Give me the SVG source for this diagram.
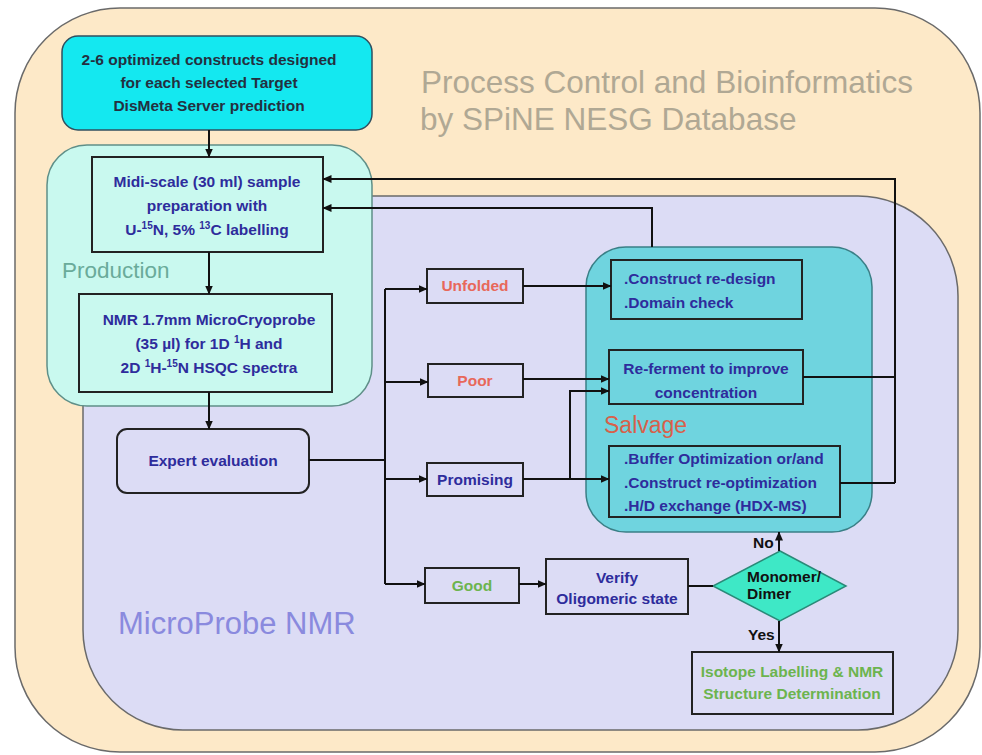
<svg xmlns="http://www.w3.org/2000/svg" width="982" height="755" viewBox="0 0 982 755">
<defs>
<marker id="ah" markerWidth="9" markerHeight="8" refX="8.5" refY="4" orient="auto" markerUnits="userSpaceOnUse">
<path d="M0,0 L9,4 L0,8 z" fill="#111"/>
</marker>
<style>
.t{font-family:"Liberation Sans",Arial,sans-serif;font-weight:bold;font-size:15.5px;fill:#2e2c9c;text-anchor:middle}
.tl{font-family:"Liberation Sans",Arial,sans-serif;font-weight:bold;font-size:15.5px;fill:#2e2c9c}
.box{fill:none;stroke:#222;stroke-width:2}
.c{fill:none;stroke:#111;stroke-width:2}
.ca{fill:none;stroke:#111;stroke-width:2;marker-end:url(#ah)}
.big{font-family:"Liberation Sans",Arial,sans-serif}
.sup{font-size:10px}
</style>
</defs>
<g id="background">
<rect x="15" y="8" width="965" height="744" rx="105" fill="#fde9c8" stroke="#6a6a6a" stroke-width="1.5"/>
<text class="big" x="421" y="93" font-size="31.5" fill="#b0a894">Process Control and Bioinformatics</text>
<text class="big" x="420" y="130" font-size="31.5" fill="#b0a894">by SPiNE NESG Database</text>
</g>
<g id="microprobe">
<rect x="83" y="196" width="875" height="534" rx="100" fill="#dcdcf5" stroke="#6a6a6a" stroke-width="1.5"/>
<text class="big" x="118" y="634" font-size="31" fill="#8a8ade">MicroProbe NMR</text>
</g>
<g id="production">
<rect x="47" y="145" width="325" height="261" rx="40" fill="#c9f9ef" stroke="#5f8f88" stroke-width="1.5"/>
<text class="big" x="62" y="278" font-size="22.5" fill="#6aab9a">Production</text>
</g>
<g id="salvage">
<rect x="586" y="247" width="286" height="285" rx="40" fill="#6fd4df" stroke="#3a7f86" stroke-width="1.5"/>
<text class="big" x="604" y="433" font-size="23" fill="#d8604a">Salvage</text>
</g>
<g id="constructs">
<rect x="62" y="36" width="310" height="94" rx="16" fill="#14e8f0" stroke="#2f4f5f" stroke-width="1.5"/>
<text class="t" x="209" y="65" style="fill:#233040">2-6 optimized constructs designed</text>
<text class="t" x="209" y="88" style="fill:#233040">for each selected Target</text>
<text class="t" x="209" y="111" style="fill:#233040">DisMeta Server prediction</text>
</g>
<g id="midiscale">
<rect class="box" x="92" y="157" width="231" height="95"/>
<text class="t" x="207" y="187">Midi-scale (30 ml) sample</text>
<text class="t" x="207" y="211">preparation with</text>
<text class="t" x="207" y="235">U-<tspan class="sup" dy="-6">15</tspan><tspan dy="6">N, 5% </tspan><tspan class="sup" dy="-6">13</tspan><tspan dy="6">C  labelling</tspan></text>
</g>
<g id="nmr">
<rect class="box" x="79" y="294" width="253" height="98"/>
<text class="t" x="209" y="325">NMR 1.7mm MicroCryoprobe</text>
<text class="t" x="209" y="349">(35 µl) for 1D <tspan class="sup" dy="-6">1</tspan><tspan dy="6">H and</tspan></text>
<text class="t" x="209" y="373">2D <tspan class="sup" dy="-6">1</tspan><tspan dy="6">H-</tspan><tspan class="sup" dy="-6">15</tspan><tspan dy="6">N HSQC spectra</tspan></text>
</g>
<g id="expert">
<rect class="box" x="117" y="429" width="192" height="64" rx="10"/>
<text class="t" x="213" y="466">Expert evaluation</text>
</g>
<g id="unfolded">
<rect class="box" x="427" y="269" width="96" height="34"/>
<text class="t" x="475" y="291" style="fill:#e8685a">Unfolded</text>
</g>
<g id="poor">
<rect class="box" x="428" y="364" width="95" height="33"/>
<text class="t" x="475" y="386" style="fill:#e8685a">Poor</text>
</g>
<g id="promising">
<rect class="box" x="427" y="463" width="96" height="33"/>
<text class="t" x="475" y="485">Promising</text>
</g>
<g id="good">
<rect class="box" x="425" y="568" width="94" height="35"/>
<text class="t" x="472" y="591" style="fill:#6cb44e">Good</text>
</g>
<g id="redesign">
<rect class="box" x="611" y="260" width="191" height="59"/>
<text class="tl" x="624" y="284">.Construct re-design</text>
<text class="tl" x="624" y="308">.Domain check</text>
</g>
<g id="referment">
<rect class="box" x="609" y="350" width="194" height="54"/>
<text class="t" x="706" y="374">Re-ferment to improve</text>
<text class="t" x="706" y="398">concentration</text>
</g>
<g id="buffer">
<rect class="box" x="609" y="446" width="231" height="71"/>
<text class="tl" x="624" y="464">.Buffer Optimization or/and</text>
<text class="tl" x="624" y="488">.Construct re-optimization</text>
<text class="tl" x="624" y="511">.H/D exchange (HDX-MS)</text>
</g>
<g id="verify">
<rect class="box" x="546" y="559" width="142" height="55"/>
<text class="t" x="617" y="583">Verify</text>
<text class="t" x="617" y="604">Oligomeric state</text>
</g>
<g id="monomer">
<polygon points="780,551 846,586 780,621 713,586" fill="#3ee8c6" stroke="#2a8a78" stroke-width="1.5"/>
<text class="tl" x="747" y="582" style="fill:#111">Monomer/</text>
<text class="tl" x="747" y="599" style="fill:#111">Dimer</text>
</g>
<g id="isotope">
<rect class="box" x="692" y="652" width="201" height="62"/>
<text class="t" x="792" y="677" style="fill:#6cb44e">Isotope Labelling &amp; NMR</text>
<text class="t" x="792" y="699" style="fill:#6cb44e">Structure Determination</text>
</g>
<g id="connectors">
<path class="ca" d="M209,130 V157"/>
<path class="ca" d="M209,252 V294"/>
<path class="ca" d="M209,392 V429"/>
<path class="c" d="M309,460 H385"/>
<path class="c" d="M385,289 V584"/>
<path class="ca" d="M385,289 H427"/>
<path class="ca" d="M385,382 H428"/>
<path class="ca" d="M385,479 H427"/>
<path class="ca" d="M385,584 H425"/>
<path class="ca" d="M523,286 H611"/>
<path class="ca" d="M523,379 H609"/>
<path class="ca" d="M523,479 H609"/>
<path class="ca" d="M570,479 V391 H609"/>
<path class="ca" d="M519,584 H546"/>
<path class="c" d="M688,586 H713"/>
<path class="ca" d="M779,551 V532"/>
<path class="ca" d="M779,621 V652"/>
<path class="c" d="M803,377 H895"/>
<path class="c" d="M840,483 H895"/>
<path class="ca" d="M895,483 V179 H323"/>
<path class="ca" d="M652,247 V208 H323"/>
<text class="tl" x="753" y="548" style="fill:#111">No</text>
<text class="tl" x="748" y="640" style="fill:#111">Yes</text>
</g>
</svg>
